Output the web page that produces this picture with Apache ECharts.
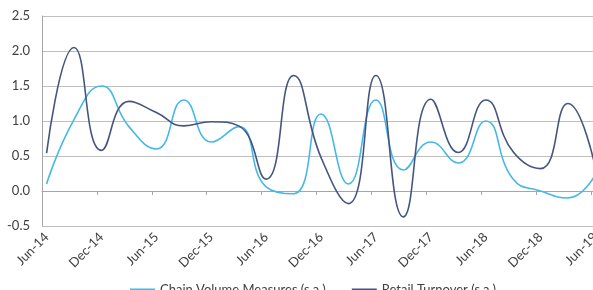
<!DOCTYPE html>
<html>
<head>
<meta charset="utf-8">
<script src="https://cdn.jsdelivr.net/npm/echarts@6/dist/echarts.min.js"></script>
<style>
  html, body { margin: 0; padding: 0; background: #fff; }
  #chart { width: 593px; height: 290px; }
</style>
</head>
<body>
<div id="chart"></div>
<script>
// monthly axis Jun-14 .. Jun-19, labels every 6 months
var monthNames = ['Jan', 'Feb', 'Mar', 'Apr', 'May', 'Jun', 'Jul', 'Aug', 'Sep', 'Oct', 'Nov', 'Dec'];
var months = [];
for (var i = 0; i < 61; i++) {
    var m = (5 + i) % 12;
    var y = 14 + Math.floor((5 + i) / 12);
    months.push(monthNames[m] + '-' + y);
}

// quarterly observations
var quarters = ['Jun-14', 'Sep-14', 'Dec-14', 'Mar-15', 'Jun-15', 'Sep-15', 'Dec-15', 'Mar-16',
    'Jun-16', 'Sep-16', 'Dec-16', 'Mar-17', 'Jun-17', 'Sep-17', 'Dec-17', 'Mar-18',
    'Jun-18', 'Sep-18', 'Dec-18', 'Mar-19', 'Jun-19'];

var chainVolume = [0.1, 1.02, 1.5, 0.92, 0.6, 1.3, 0.7, 0.92,
    0.06, -0.04, 1.1, 0.1, 1.3, 0.3, 0.7, 0.4,
    1.0, 0.17, 0.0, -0.1, 0.24];

var retailTurnover = [0.54, 2.05, 0.58, 1.28, 1.12, 0.93, 0.99, 0.93,
    0.17, 1.65, 0.48, -0.18, 1.65, -0.37, 1.31, 0.55,
    1.3, 0.56, 0.32, 1.25, 0.33];

function pairs(vals) {
    var out = [];
    for (var i = 0; i < quarters.length; i++) {
        out.push([quarters[i], vals[i]]);
    }
    return out;
}

var chart = echarts.init(document.getElementById('chart'));

var font = 'Lato, "Open Sans", sans-serif';

chart.setOption({
    animation: false,
    grid: { left: 42, top: 16, width: 558, height: 210, outerBoundsMode: 'none', containLabel: false },
    legend: {
        left: 125,
        top: 278,
        icon: 'rect',
        itemWidth: 25,
        itemHeight: 2,
        itemGap: 26,
        textStyle: { fontFamily: font, fontSize: 13, color: '#404040' },
        data: ['Chain Volume Measures (s.a.)', 'Retail Turnover (s.a.)']
    },
    xAxis: [{
        type: 'category',
        data: months,
        boundaryGap: true,
        position: 'bottom',
        axisLine: { show: false, onZero: false },
        axisTick: { show: false },
        axisLabel: {
            interval: 5,
            rotate: 45,
            margin: 9,
            fontFamily: font,
            fontSize: 13,
            color: '#404040'
        }
    }, {
        type: 'category',
        data: months,
        boundaryGap: true,
        position: 'bottom',
        axisLine: { show: true, onZero: true, lineStyle: { color: '#a6a6a6', width: 1 } },
        axisTick: { show: true, interval: 5, length: 4, lineStyle: { color: '#a6a6a6' } },
        axisLabel: { show: false }
    }],
    yAxis: {
        type: 'value',
        min: -0.5,
        max: 2.5,
        interval: 0.5,
        axisLine: { show: true, lineStyle: { color: '#a6a6a6', width: 1 } },
        axisTick: { show: false },
        splitLine: { lineStyle: { color: '#bfbfbf', width: 1 } },
        axisLabel: {
            margin: 12,
            fontFamily: font,
            fontSize: 13,
            color: '#404040',
            formatter: function (v) { return v.toFixed(1); }
        }
    },
    series: [{
        name: 'Chain Volume Measures (s.a.)',
        type: 'line',
        xAxisIndex: 0,
        smooth: 0.5,
        symbol: 'none',
        data: pairs(chainVolume),
        itemStyle: { color: '#45b9e6' },
        lineStyle: { color: '#45b9e6', width: 1.6 }
    }, {
        name: 'Retail Turnover (s.a.)',
        type: 'line',
        xAxisIndex: 0,
        smooth: 0.5,
        symbol: 'none',
        data: pairs(retailTurnover),
        itemStyle: { color: '#44557f' },
        lineStyle: { color: '#44557f', width: 1.6 }
    }]
});
</script>
</body>
</html>
